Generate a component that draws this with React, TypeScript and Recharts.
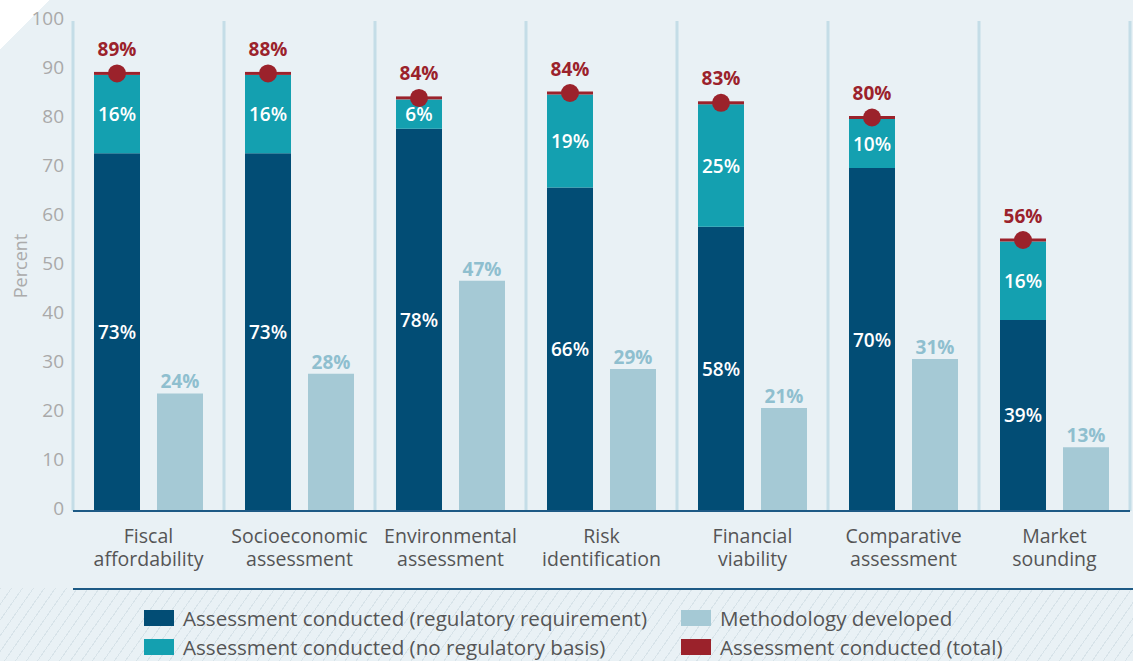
import React from 'react';
import { ComposedChart, Bar, XAxis, YAxis, CartesianGrid, LabelList, Legend } from 'recharts';

const categories = [
  'Fiscal\naffordability',
  'Socioeconomic\nassessment',
  'Environmental\nassessment',
  'Risk\nidentification',
  'Financial\nviability',
  'Comparative\nassessment',
  'Market\nsounding',
];
const regulatory = [73, 73, 78, 66, 58, 70, 39];
const noRegulatory = [16, 16, 6, 19, 25, 10, 16];
const totals = [89, 88, 84, 84, 83, 80, 56];
const methodology = [24, 28, 47, 29, 21, 31, 13];
const yTicks = [0, 10, 20, 30, 40, 50, 60, 70, 80, 90, 100];
const separatorTicks = [0, 1, 2, 3, 4, 5, 6, 7];

const DARK = '#024d75';
const TEAL = '#14a0b0';
const LIGHT = '#a5c9d5';
const RED = '#9b222b';
const BG = '#e9f1f5';
const SEP = '#c4dde7';
const AXIS = '#1d5a85';
const LIGHT_TEXT = '#8fbfcf';
const FONT = '"Open Sans", sans-serif';

const legendItems = [
  { label: 'Assessment conducted (regulatory requirement)', color: DARK },
  { label: 'Methodology developed', color: LIGHT },
  { label: 'Assessment conducted (no regulatory basis)', color: TEAL },
  { label: 'Assessment conducted (total)', color: RED },
];

const data = categories.map((name, i) => ({
  name,
  pos: i + 0.5,
  reg: regulatory[i],
  noreg: noRegulatory[i],
  total: totals[i],
  method: methodology[i],
}));

const CategoryTick = (props: any) => {
  const { x, y, payload } = props;
  const lines = String(payload.value).split('\n');
  return (
    <g>
      {lines.map((l, i) => (
        <text
          key={i}
          x={x}
          y={y + 32 + i * 23}
          textAnchor="middle"
          fill="#555"
          fontSize={19.5}
          fontFamily={FONT}
        >
          {l}
        </text>
      ))}
    </g>
  );
};

const InsideLabel = (props: any) => {
  const { x, y, width, height, value } = props;
  return (
    <text
      x={x + width / 2}
      y={y + height / 2 + 7}
      textAnchor="middle"
      fill="#fff"
      fontSize={19}
      fontWeight={600}
      fontFamily={FONT}
    >
      {value}%
    </text>
  );
};

const TotalMarker = (props: any) => {
  const { x, y, width, value } = props;
  const cx = x + width / 2;
  return (
    <g>
      <rect x={x} y={y - 3} width={width} height={3} fill={RED} />
      <circle cx={cx} cy={y - 1.5} r={9} fill={RED} />
      <text x={cx} y={y - 26 + 7} textAnchor="middle" fill={RED} fontSize={19} fontWeight={700} fontFamily={FONT}>
        {value}%
      </text>
    </g>
  );
};

const AboveLabel = (props: any) => {
  const { x, y, width, value } = props;
  return (
    <text
      x={x + width / 2}
      y={y - 12 + 7}
      textAnchor="middle"
      fill={LIGHT_TEXT}
      fontSize={19}
      fontWeight={700}
      fontFamily={FONT}
    >
      {value}%
    </text>
  );
};

const PercentLabel = (props: any) => {
  const { viewBox } = props;
  const cx = viewBox.x + 20;
  const cy = viewBox.y + viewBox.height / 2;
  return (
    <text
      x={cx}
      y={cy}
      transform={`rotate(-90 ${cx} ${cy})`}
      textAnchor="middle"
      dominantBaseline="central"
      fill="#ababab"
      fontSize={18}
      fontFamily={FONT}
    >
      Percent
    </text>
  );
};

const renderLegend = () => (
  <div
    style={{
      position: 'relative',
      width: 1133,
      height: 73,
      backgroundImage:
        'repeating-linear-gradient(125deg, rgba(175,195,205,0.3) 0px, rgba(175,195,205,0.3) 1px, transparent 1px, transparent 9px)',
      fontFamily: FONT,
    }}
  >
    <div style={{ position: 'absolute', left: 73, right: 0, top: 0, height: 2, background: AXIS }} />
    <div
      style={{
        position: 'absolute',
        left: 144,
        top: 15.5,
        display: 'grid',
        gridTemplateColumns: '537px auto',
        gridAutoRows: '29px',
      }}
    >
      {legendItems.map((it) => (
        <div key={it.label} style={{ display: 'flex', alignItems: 'center', height: 29 }}>
          <div style={{ width: 30, height: 16, background: it.color, marginRight: 9, flex: 'none' }} />
          <span style={{ fontSize: 20.6, color: '#555', whiteSpace: 'nowrap', lineHeight: '29px' }}>{it.label}</span>
        </div>
      ))}
    </div>
  </div>
);

export default function App() {
  return (
    <div
      style={{
        position: 'absolute',
        left: 0,
        top: 0,
        width: 1133,
        height: 661,
        background: BG,
        fontFamily: FONT,
        overflow: 'hidden',
      }}
    >
      <div
        style={{
          position: 'absolute',
          left: 0,
          top: 0,
          width: 50,
          height: 50,
          background: 'linear-gradient(135deg, #ffffff 50%, transparent 50%)',
        }}
      />
      <ComposedChart
        width={1133}
        height={661}
        data={data}
        margin={{ top: 21, right: 3, bottom: 0, left: 0 }}
        barGap={17}
        barSize={46}
      >
        <XAxis
          xAxisId="grid"
          dataKey="pos"
          type="number"
          domain={[0, 7]}
          ticks={separatorTicks}
          allowDataOverflow
          orientation="bottom"
          height={0}
          axisLine={false}
          tickLine={{ stroke: SEP, strokeWidth: 3 }}
          tickSize={20}
          tick={() => <g />}
        />
        <CartesianGrid xAxisId="grid" horizontal={false} stroke={SEP} strokeWidth={3} />
        <XAxis
          dataKey="name"
          height={77}
          axisLine={{ stroke: AXIS, strokeWidth: 2 }}
          tickLine={false}
          tickSize={0}
          tickMargin={0}
          interval={0}
          tick={<CategoryTick />}
        />
        <YAxis
          domain={[0, 100]}
          ticks={yTicks}
          width={73}
          axisLine={false}
          tickLine={false}
          tickSize={0}
          tickMargin={9}
          tick={{ fill: '#a9a9a9', fontSize: 19, fontFamily: FONT, dy: -3 }}
          label={<PercentLabel />}
        />
        <Legend verticalAlign="bottom" content={renderLegend} wrapperStyle={{ left: 0, bottom: 0, width: 1133 }} />
        <Bar dataKey="reg" stackId="a" fill={DARK} isAnimationActive={false}>
          <LabelList dataKey="reg" content={<InsideLabel />} />
        </Bar>
        <Bar dataKey="noreg" stackId="a" fill={TEAL} isAnimationActive={false}>
          <LabelList dataKey="noreg" content={<InsideLabel />} />
          <LabelList dataKey="total" content={<TotalMarker />} />
        </Bar>
        <Bar dataKey="method" fill={LIGHT} isAnimationActive={false}>
          <LabelList dataKey="method" content={<AboveLabel />} />
        </Bar>
      </ComposedChart>
    </div>
  );
}
